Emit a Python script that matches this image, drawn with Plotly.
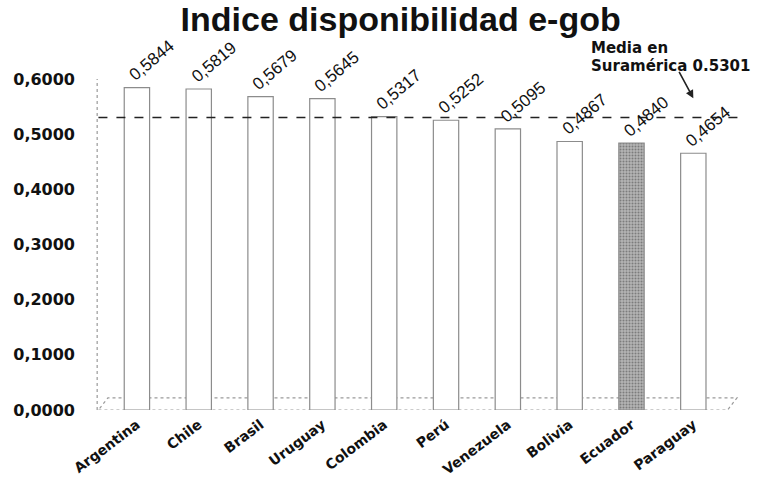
import plotly.graph_objects as go

# ---- data ----
categories = ["Argentina", "Chile", "Brasil", "Uruguay", "Colombia",
              "Perú", "Venezuela", "Bolivia", "Ecuador", "Paraguay"]
values = [0.5844, 0.5819, 0.5679, 0.5645, 0.5317,
          0.5252, 0.5095, 0.4867, 0.4840, 0.4654]
value_labels = ["0,5844", "0,5819", "0,5679", "0,5645", "0,5317",
                "0,5252", "0,5095", "0,4867", "0,4840", "0,4654"]
highlight = "Ecuador"
average = 0.5301
average_lines = ["Media en", "Suramérica 0.5301"]
y_ticks = [0.0, 0.1, 0.2, 0.3, 0.4, 0.5, 0.6]
y_tick_labels = ["0,0000", "0,1000", "0,2000", "0,3000", "0,4000", "0,5000", "0,6000"]
title_text = "Indice disponibilidad e-gob"

# ---- styling ----
fill = ["#b4b4b4" if c == highlight else "#ffffff" for c in categories]
pat_shape = ["." if c == highlight else "" for c in categories]

fig = go.Figure()
fig.add_trace(go.Bar(
    x=categories, y=values, width=0.41,
    marker=dict(color=fill,
                line=dict(color="#8c8c8c", width=1.2),
                pattern=dict(shape=pat_shape, fgcolor="#555555",
                             size=3, solidity=0.35)),
    showlegend=False, hoverinfo="x+y",
))

annotations = []
for c, v, lab in zip(categories, values, value_labels):
    annotations.append(dict(
        x=c, y=v, text=lab, showarrow=False, textangle=-40,
        xanchor="left", yanchor="bottom", xshift=-14, yshift=0,
        font=dict(family="Liberation Sans", size=17, color="#111111"),
    ))

# average annotation text (two lines) + arrow
for i, line in enumerate(average_lines):
    annotations.append(dict(
        xref="paper", yref="paper", x=0.766, y=1.128 - i * 0.056,
        xanchor="left", yanchor="top", align="left", showarrow=False,
        text=line,
        font=dict(family="DejaVu Sans", size=15, color="#111111", weight="bold"),
    ))
annotations.append(dict(
    x=categories[-1], y=0.565, text="", showarrow=True,
    ax=-15, ay=-28, arrowhead=2, arrowsize=1, arrowwidth=1.6,
    arrowcolor="#222222",
))

shapes = [
    # 3D floor
    dict(type="path", xref="paper", yref="y",
         path="M -0.012 0 L 0.985 0 L 1.0 0.022 L 0.003 0.022 Z",
         line=dict(color="#9a9a9a", width=1.2, dash="dot"), layer="below"),
    # left wall
    dict(type="line", xref="paper", yref="y", x0=-0.014, x1=-0.014,
         y0=0, y1=0.6, line=dict(color="#9a9a9a", width=1.2, dash="dot"),
         layer="below"),
    # average dashed line
    dict(type="line", xref="paper", yref="y", x0=-0.012, x1=1.01,
         y0=average, y1=average,
         line=dict(color="#222222", width=1.4, dash="dash"), layer="above"),
]

fig.update_layout(
    width=778, height=477,
    margin=dict(l=106, r=41, t=79, b=67, autoexpand=False),
    paper_bgcolor="white", plot_bgcolor="white",
    title=dict(text="<b>" + title_text + "</b>", x=0.515, xref="container",
               xanchor="center", y=0.96, yref="container", yanchor="middle",
               font=dict(family="Liberation Sans", size=34, color="#111111")),
    annotations=annotations, shapes=shapes,
    bargap=0.59,
)
fig.update_yaxes(range=[0, 0.6], tickvals=y_ticks, ticktext=y_tick_labels,
                 showgrid=False, zeroline=False, showline=False,
                 automargin=False, ticklabelstandoff=30,
                 tickfont=dict(family="DejaVu Sans", size=16, color="#111111",
                               weight="bold"))
fig.update_xaxes(tickangle=-37, showgrid=False, zeroline=False, showline=False,
                 automargin=False, ticklabelstandoff=3,
                 tickfont=dict(family="DejaVu Sans", size=14, color="#111111",
                               weight="bold"))

fig.write_html("out.html", config={"displayModeBar": False},
               post_script="document.body.style.margin='0px';")
